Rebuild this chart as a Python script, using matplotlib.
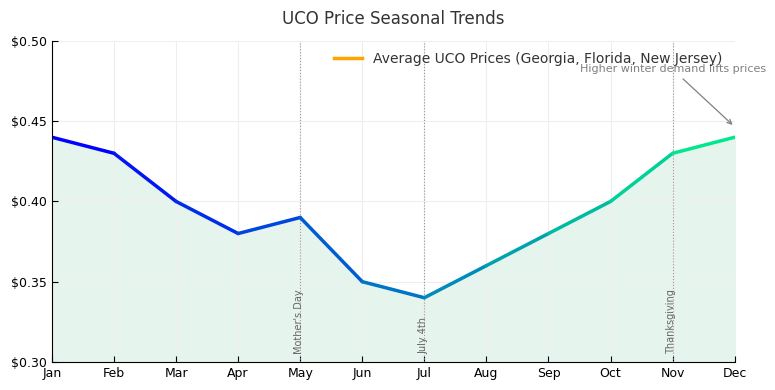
import numpy as np
import matplotlib
matplotlib.use('Agg')
import matplotlib.pyplot as plt
from matplotlib.collections import LineCollection
from matplotlib.lines import Line2D

months = ['Jan', 'Feb', 'Mar', 'Apr', 'May', 'Jun', 'Jul', 'Aug', 'Sep', 'Oct', 'Nov', 'Dec']
prices = [0.44, 0.43, 0.40, 0.38, 0.39, 0.35, 0.34, 0.36, 0.38, 0.40, 0.43, 0.44]
events = ['May', 'Jul', 'Nov']
event_labels = ["Mother's Day", 'July 4th', 'Thanksgiving']
y_ticks = [0.30, 0.35, 0.40, 0.45, 0.50]

x = np.arange(len(months))
y = np.array(prices)

fig, ax = plt.subplots(figsize=(7.75, 3.9), dpi=100)
fig.subplots_adjust(left=0.067, right=0.948, top=0.895, bottom=0.072)

# gradient line, blue in winter to green at year end
points = np.array([x, y]).T.reshape(-1, 1, 2)
segments = np.concatenate([points[:-1], points[1:]], axis=1)
lc = LineCollection(segments, cmap='winter', norm=plt.Normalize(0, len(months) - 1),
                    linewidth=2.5, capstyle='round', joinstyle='round')
lc.set_array(x[:-1])
ax.add_collection(lc)
ax.fill_between(x, y, 0.30, color='#e6f4ee', zorder=0)

for m, lab in zip(events, event_labels):
    xi = months.index(m)
    ax.axvline(xi, color='#999999', linestyle=':', linewidth=0.8, zorder=1)
    ax.text(xi - 0.02, 0.305, lab, rotation=90, ha='center', va='bottom', fontsize=7, color='#666666')

ax.annotate('Higher winter demand lifts prices', xy=(11, 0.4465), xytext=(10, 0.4805),
            ha='center', fontsize=8, color='gray',
            arrowprops=dict(arrowstyle='->', color='gray', lw=0.9))

ax.set_xlim(0, len(months) - 1)
ax.set_ylim(0.30, 0.50)
ax.set_xticks(x)
ax.set_xticklabels(months)
ax.set_yticks(y_ticks)
ax.set_yticklabels([f'${v:.2f}' for v in y_ticks])
ax.tick_params(direction='in', labelsize=9, length=4)
ax.spines['top'].set_visible(False)
ax.spines['right'].set_visible(False)
ax.grid(True, color='#eeeeee', linewidth=0.8)
ax.set_axisbelow(True)

handle = Line2D([0], [0], color='orange', linewidth=2.5)
leg = ax.legend([handle], ['Average UCO Prices (Georgia, Florida, New Jersey)'], loc='upper right',
                frameon=False, fontsize=10, bbox_to_anchor=(1.0, 1.005))
for t in leg.get_texts():
    t.set_color('#333333')

ax.set_title('UCO Price Seasonal Trends', fontsize=12, color='#333333', pad=12)

fig.savefig('out.png', dpi=100)
